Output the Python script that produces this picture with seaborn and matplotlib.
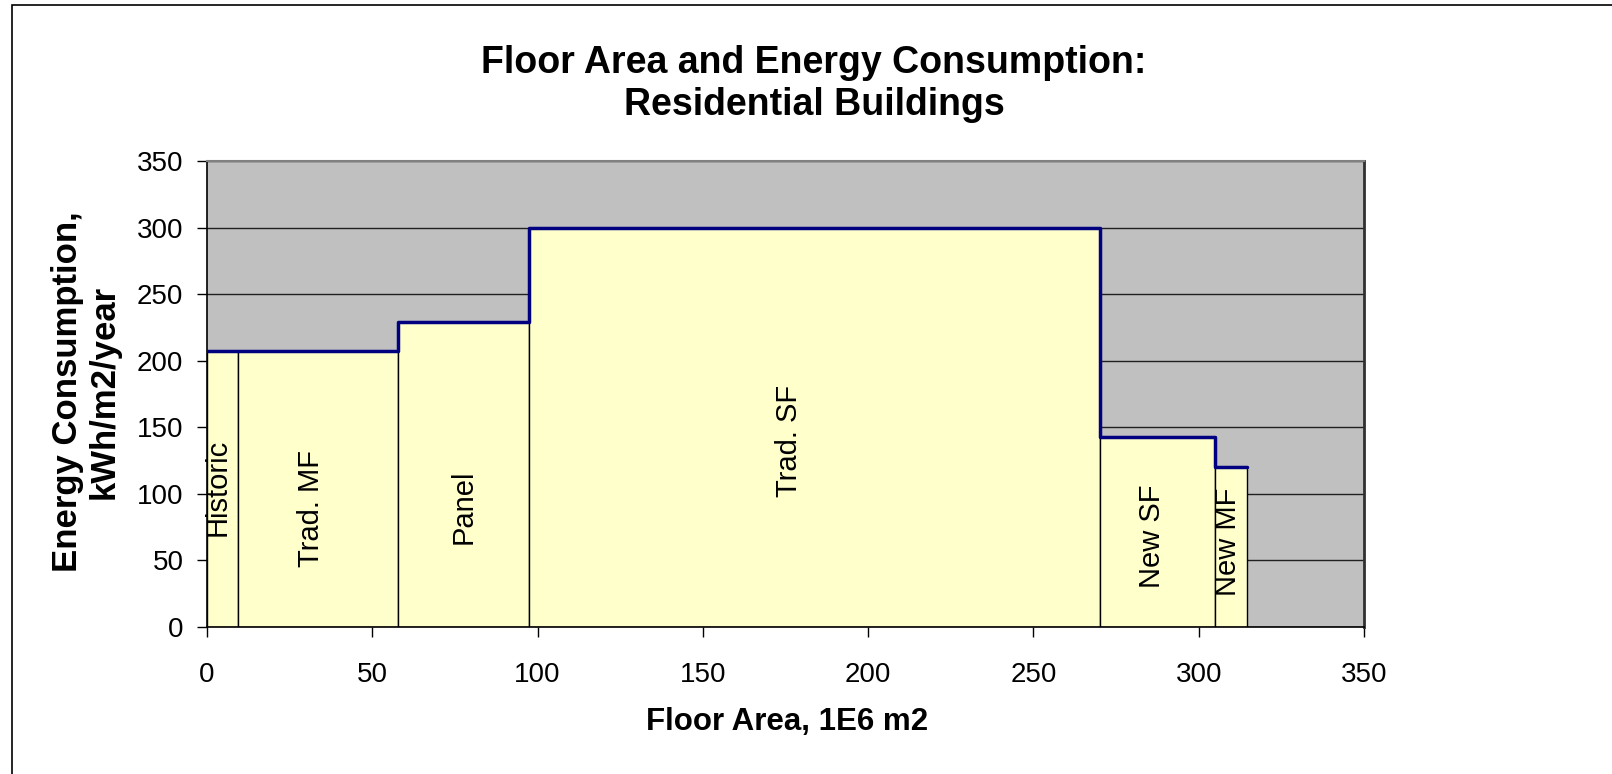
import numpy as np
import pandas as pd
import matplotlib
matplotlib.use("Agg")
import matplotlib.pyplot as plt
from matplotlib.patches import Rectangle
import seaborn as sns

# building stock segments
segments = ['Historic', 'Trad. MF', 'Panel', 'Trad. SF', 'New SF', 'New MF']
floor_area = [9.4, 48.4, 39.7, 172.5, 34.9, 9.7]      # 1E6 m2 (bar widths)
energy = [207, 207, 229, 300, 143, 120]               # kWh/m2/year (bar heights)

# where the segment names sit inside the bars
label_x = [3.3, 31.5, 77.6, 176.2, 285.8, 308.8]
label_y = [105, 89, 90, 140, 68, 64]

edges = np.concatenate([[0], np.cumsum(floor_area)])
df = pd.DataFrame({'left': edges[:-1], 'width': floor_area, 'energy': energy})
outline = pd.DataFrame({'x': edges, 'y': energy + [energy[-1]]})

sns.set_theme(style='white')
plt.rcParams['font.family'] = ['Liberation Sans', 'DejaVu Sans']
plt.rcParams['text.color'] = 'black'
plt.rcParams['xtick.color'] = 'black'
plt.rcParams['ytick.color'] = 'black'

fig = plt.figure(figsize=(16.12, 7.74), dpi=100)
ax = fig.add_axes([207 / 1612, 1 - 627 / 774, (1364 - 207) / 1612, (627 - 161) / 774])
ax.set_facecolor('#C0C0C0')

ax.set_axisbelow(True)
ax.yaxis.grid(True, color='#202020', linewidth=1.0)

ax.bar(df['left'], df['energy'], width=df['width'], align='edge',
       color='#FFFFCC', edgecolor='black', linewidth=1.0, zorder=2)

sns.lineplot(data=outline, x='x', y='y', drawstyle='steps-post',
             color='#000080', linewidth=2.5, ax=ax, zorder=3)

for name, lx, ly in zip(segments, label_x, label_y):
    ax.text(lx, ly, name, rotation=90, ha='center', va='center',
            fontsize=21, color='black', zorder=4)

ax.set_xlim(0, 350)
ax.set_ylim(0, 350)
ax.set_xticks(range(0, 351, 50))
ax.set_yticks(range(0, 351, 50))
ax.tick_params(axis='both', which='both', direction='out', length=7, width=1,
               color='black', labelcolor='black', labelsize=20, bottom=True, left=True)
ax.tick_params(axis='x', pad=18)
ax.tick_params(axis='y', pad=10)

for side in ['left', 'bottom']:
    ax.spines[side].set_color('black')
    ax.spines[side].set_linewidth(1.2)
ax.spines['top'].set_color('#808080')
ax.spines['top'].set_linewidth(1.5)
ax.spines['right'].set_color('#303030')
ax.spines['right'].set_linewidth(2)

ax.set_xlabel('')
ax.set_ylabel('')
fig.text(0.488, 0.067, 'Floor Area, 1E6 m2', ha='center', va='center',
         fontsize=22.5, fontweight='bold', color='black')
fig.text(86 / 1612, 1 - 392 / 774, 'Energy Consumption,\nkWh/m2/year', ha='center',
         va='center', rotation=90, fontsize=25, fontweight='bold', linespacing=1.15,
         color='black')
fig.text(0.505, 0.891, 'Floor Area and Energy Consumption:\nResidential Buildings',
         ha='center', va='center', fontsize=27, fontweight='bold', linespacing=1.22,
         color='black')

# chart frame (only left and top edges fall inside the picture)
fig.patches.append(Rectangle((11.5 / 1612, -0.5), 2, 1.5 - 5 / 774,
                             transform=fig.transFigure, fill=False,
                             edgecolor='black', linewidth=1.2))

fig.savefig('out.png', dpi=100)
